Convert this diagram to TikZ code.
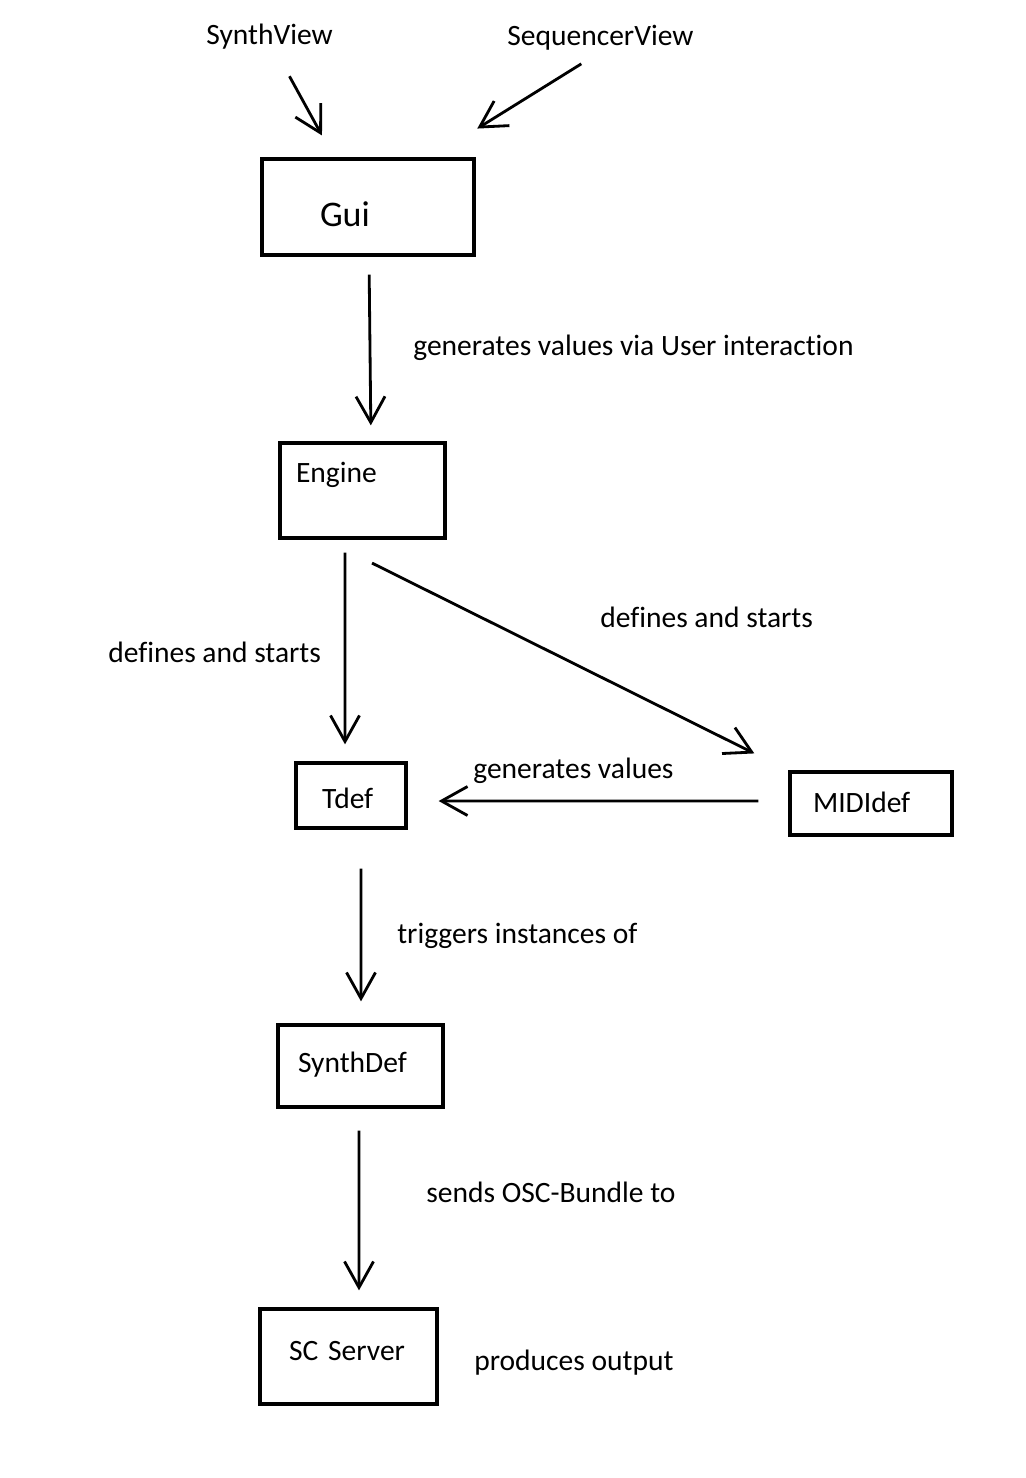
\documentclass[tikz,border=0pt]{standalone}
\usepackage{fontspec}
\setmainfont{Carlito}[Ligatures=NoCommon]
\usetikzlibrary{arrows.meta}

\tikzset{
    box/.style={draw, line width=1.9pt, inner ysep=0pt, align=left,
        font=\fontsize{16.8}{20}\selectfont},
    lbl/.style={anchor=base west, inner sep=0pt,
        font=\fontsize{16.8}{20}\selectfont},
    flow/.style={line width=1.6pt, -{Straight Barb[length=0.52cm, width=0.58cm]}}
}

\begin{document}
\begin{tikzpicture}[x=0.02cm, y=-0.02cm]

\useasboundingbox (0, 0) rectangle (1026, 1478);

% draw boxes
\node[box, font=\fontsize{20.5}{24}\selectfont, inner xsep=1.16cm, text width=1.92cm,
    text height=1.34cm, text depth=0.58cm] (gui) at (368, 207) {Gui};
\node[box, inner xsep=0.32cm, text width=2.66cm,
    text height=0.78cm, text depth=1.12cm] (engine) at (362.5, 490.5) {Engine};
\node[box, inner xsep=0.52cm, text width=1.16cm,
    text height=0.9cm, text depth=0.4cm] (tdef) at (351, 795.5) {Tdef};
\node[box, inner xsep=0.46cm, text width=2.32cm,
    text height=0.8cm, text depth=0.46cm] (mididef) at (871, 803.5) {MIDIdef};
\node[box, inner xsep=0.4cm, text width=2.5cm,
    text height=0.94cm, text depth=0.7cm] (synthdef) at (360.5, 1066) {SynthDef};
\node[box, inner xsep=0.58cm, text width=2.38cm,
    text height=1.02cm, text depth=0.88cm] (scserver) at (348.5, 1356.5) {SC Server};

% draw labels
\node[lbl] (synthview) at (206, 44) {SynthView};
\node[lbl] (sequencerview) at (507, 45) {SequencerView};
\node[lbl] (userinput) at (413, 355) {generates values via User interaction};
\node[lbl] (definesleft) at (108, 662) {defines and starts};
\node[lbl] (definesright) at (600, 627) {defines and starts};
\node[lbl] (genvalues) at (473, 778) {generates values};
\node[lbl] (triggers) at (397, 943) {triggers instances of};
\node[lbl] (sends) at (426, 1202) {sends OSC-Bundle to};
\node[lbl] (output) at (474, 1370) {produces output};

% draw views into gui
\draw[flow, shorten <=0.62cm, shorten >=0.5cm]
    ([xshift=0.1cm]synthview.south) -- ([xshift=-0.68cm]gui.north);
\draw[flow, shorten <=0.52cm, shorten >=1.09cm]
    ([xshift=0.06cm]sequencerview.south) -- ([xshift=1.26cm]gui.north);

% draw flow downwards
\draw[flow, shorten <=0.36cm, shorten >=0.32cm]
    ([xshift=0.02cm]gui.south) -- ([xshift=0.17cm]engine.north);
\draw[flow, shorten <=0.26cm, shorten >=0.34cm]
    ([xshift=-0.35cm]engine.south) -- ([xshift=-0.12cm]tdef.north);
\draw[flow, shorten <=1.05cm, shorten >=0.76cm]
    ([xshift=-0.75cm]engine.south) -- (mididef.north west);
\draw[flow, shorten <=0.6cm, shorten >=0.62cm]
    ([yshift=0.05cm]mididef.west) -- ([yshift=-0.11cm]tdef.east);
\draw[flow, shorten <=0.78cm, shorten >=0.44cm]
    ([xshift=0.2cm]tdef.south) -- ([xshift=0.01cm]synthdef.north);
\draw[flow, shorten <=0.44cm, shorten >=0.34cm]
    ([xshift=-0.03cm]synthdef.south) -- ([xshift=0.21cm]scserver.north);

\end{tikzpicture}
\end{document}
